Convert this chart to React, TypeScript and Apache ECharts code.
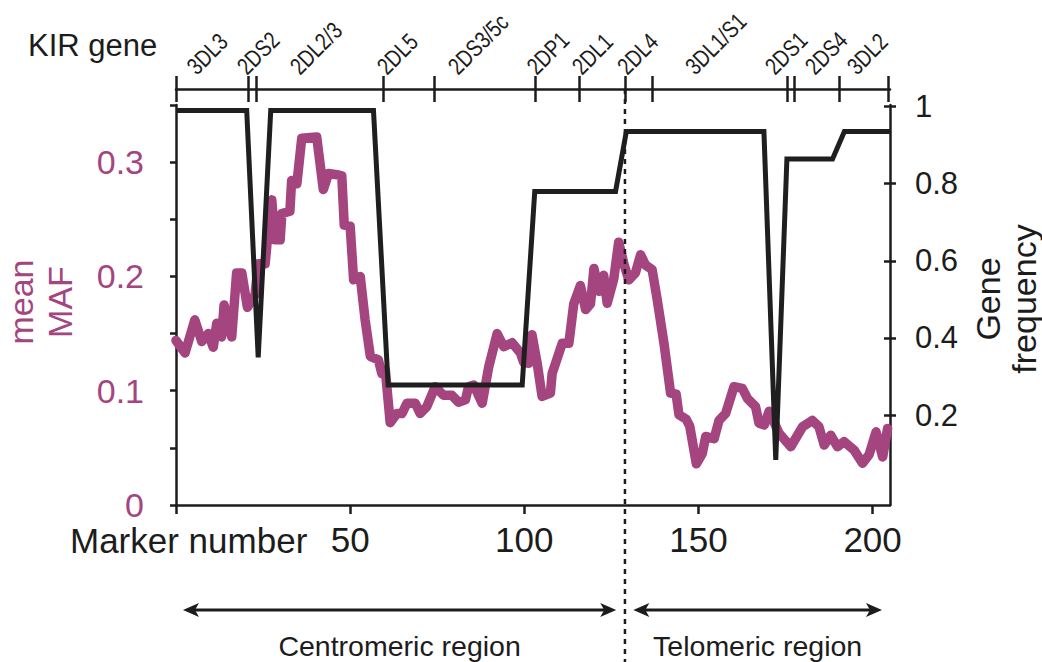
import React, { useEffect, useRef } from "react";
import * as echarts from "echarts";

// ---- data ----
const mafMarkers = [
  0, 2.6, 5.4, 7.4, 9.3, 10.7, 11.7, 13.1, 13.8, 16.0, 17.4, 18.9, 20.5, 22.7, 23.6, 25.6, 26.5, 27.5, 28.4, 29.9,
  30.4, 32.7, 33.2, 34.7, 36.1, 40.4, 42.3, 43.8, 46.2, 47.6, 48.3, 50.0, 51.0, 52.9, 54.3, 55.8, 58.1, 59.1, 60.1, 61.5,
  63.4, 64.9, 66.3, 68.7, 70.1, 72.0, 74.4, 76.8, 79.2, 81.1, 83.1, 84.0, 85.5, 87.9, 89.8, 92.2, 94.1, 96.5, 98.9, 99.8,
  101.3, 102.2, 103.7, 105.1, 107.5, 108.0, 110.9, 112.8, 114.2, 116.1, 117.6, 119.0, 120.0, 121.4, 122.8, 123.8, 125.7, 127.1, 128.6, 130.0,
  131.9, 133.4, 134.8, 136.7, 138.2, 140.1, 142.0, 143.6, 144.4, 146.5, 147.5, 149.4, 151.1, 152.1, 154.5, 155.9, 157.8, 160.2, 162.6, 164.1,
  166.4, 167.4, 168.9, 170.3, 173.1, 176.5, 179.9, 182.7, 184.6, 186.1, 188.0, 189.9, 191.8, 194.7, 197.1, 199.0, 201.0, 202.9, 204.3,
];
const mafValues = [
  0.144, 0.133, 0.162, 0.143, 0.150, 0.138, 0.159, 0.147, 0.175, 0.147, 0.203, 0.203, 0.173, 0.184, 0.211, 0.211, 0.241, 0.267, 0.232, 0.232,
  0.255, 0.257, 0.284, 0.281, 0.321, 0.322, 0.276, 0.290, 0.289, 0.288, 0.245, 0.244, 0.197, 0.200, 0.162, 0.130, 0.127, 0.115, 0.118, 0.072,
  0.080, 0.080, 0.089, 0.089, 0.080, 0.086, 0.1035, 0.096, 0.096, 0.090, 0.092, 0.1035, 0.105, 0.089, 0.121, 0.150, 0.1385, 0.142, 0.133, 0.125,
  0.124, 0.149, 0.124, 0.095, 0.098, 0.115, 0.1415, 0.1415, 0.176, 0.192, 0.171, 0.176, 0.207, 0.187, 0.201, 0.1765, 0.198, 0.230, 0.211, 0.197,
  0.203, 0.219, 0.210, 0.206, 0.179, 0.1415, 0.098, 0.097, 0.079, 0.075, 0.069, 0.036, 0.045, 0.060, 0.058, 0.074, 0.080, 0.1035, 0.102, 0.093,
  0.086, 0.0715, 0.070, 0.082, 0.063, 0.051, 0.0685, 0.074, 0.0685, 0.0525, 0.061, 0.051, 0.0554, 0.048, 0.0365, 0.044, 0.064, 0.042, 0.067,
];

const geneMarkers = [0, 20.3, 23.6, 27.2, 56.7, 60.9, 99.4, 103, 126.2, 129.3, 168.8, 172.2, 175.4, 188.5, 191.9, 205];
const geneFrequency = [0.99, 0.99, 0.35, 0.99, 0.99, 0.278, 0.278, 0.78, 0.78, 0.935, 0.935, 0.084, 0.864, 0.864, 0.935, 0.935];

const geneBounds = [0, 20.8, 23, 59.4, 74.1, 103.1, 115.7, 128.9, 136.7, 175.5, 177.5, 190.5, 204.6];
const geneNames = ["3DL3", "2DS2", "2DL2/3", "2DL5", "2DS3/5c", "2DP1", "2DL1", "2DL4", "3DL1/S1", "2DS1", "2DS4", "3DL2"];
const geneLabelAt = [6.0, 20.4, 35.6, 60.6, 81.0, 103.6, 116.6, 129.6, 149.1, 172.0, 183.5, 195.5];

const freqTicks = [0.2, 0.4, 0.6, 0.8, 1];
const regionNames = ["Centromeric region", "Telomeric region"];
const regionSpans = [
  [2, 126.4],
  [131.3, 202.7],
];
const regionBoundary = 128.9;

const FONT = "'Liberation Sans', Arial, Helvetica, sans-serif";
const INK = "#1c1c1c";
const PURPLE = "#a4457f";

export default function App() {
  const ref = useRef<HTMLDivElement>(null);

  useEffect(() => {
    document.body.style.margin = "0";
    const chart = echarts.init(ref.current!, undefined, { renderer: "svg" });
    const line = { color: INK, width: 2.5 };

    chart.setOption({
      animation: false,
      grid: { left: 176, right: 152, top: 105, bottom: 157 },
      xAxis: [
        {
          type: "value",
          min: 0,
          max: 205,
          interval: 50,
          position: "bottom",
          axisLine: { show: true, onZero: false, lineStyle: line },
          axisTick: { show: true, length: 9, lineStyle: line },
          axisLabel: {
            formatter: (v: number) => (v === 0 ? "" : String(v)),
            fontSize: 35,
            color: INK,
            margin: 17,
            fontFamily: FONT,
          },
          splitLine: { show: false },
        },
        {
          type: "value",
          min: 0,
          max: 205,
          position: "top",
          offset: 16,
          axisLine: { show: true, onZero: false, lineStyle: line },
          axisTick: { show: true, customValues: geneBounds, length: 13, lineStyle: line },
          axisLabel: { show: false },
          splitLine: { show: false },
        },
        {
          type: "value",
          min: 0,
          max: 205,
          position: "top",
          offset: 16,
          axisLine: { show: false, onZero: false },
          axisTick: { show: true, inside: true, customValues: geneBounds, length: 13, lineStyle: line },
          axisLabel: { show: false },
          splitLine: { show: false },
        },
      ],
      yAxis: [
        {
          type: "value",
          min: 0,
          max: 0.35,
          interval: 0.05,
          position: "left",
          axisLine: { show: true, onZero: false, lineStyle: line },
          axisTick: { show: true, length: 6, lineStyle: line },
          axisLabel: {
            formatter: (v: number) => {
              const t = v * 10;
              if (Math.abs(t - Math.round(t)) > 1e-6) return "";
              return v === 0 ? "0" : v.toFixed(1);
            },
            fontSize: 34,
            color: PURPLE,
            margin: 32,
            padding: [0, 0, 8, 0],
            fontFamily: FONT,
          },
          splitLine: { show: false },
        },
        {
          type: "value",
          min: -0.033,
          max: 1.004,
          position: "right",
          axisLine: { show: true, onZero: false, lineStyle: line },
          axisTick: { show: true, customValues: freqTicks, length: 6, lineStyle: line },
          axisLabel: {
            customValues: freqTicks,
            formatter: (v: number) => (v === 1 ? "1" : v.toFixed(1)),
            fontSize: 31,
            color: INK,
            margin: 25,
            fontFamily: FONT,
          },
          splitLine: { show: false },
        },
        {
          type: "value",
          min: -0.033,
          max: 1.004,
          position: "right",
          axisLine: { show: false, onZero: false },
          axisTick: { show: true, inside: true, customValues: freqTicks, length: 6, lineStyle: line },
          axisLabel: { show: false },
          splitLine: { show: false },
        },
      ],
      series: [
        {
          type: "line",
          name: "mean MAF",
          xAxisIndex: 0,
          yAxisIndex: 0,
          data: mafMarkers.map((m, i) => [m, mafValues[i]]),
          symbol: "none",
          clip: false,
          lineStyle: { color: PURPLE, width: 9.5, join: "round", cap: "round" },
          z: 2,
        },
        {
          type: "line",
          name: "Gene frequency",
          xAxisIndex: 0,
          yAxisIndex: 1,
          data: geneMarkers.map((m, i) => [m, geneFrequency[i]]),
          symbol: "none",
          clip: false,
          lineStyle: { color: "#1f1f1f", width: 5, join: "miter", miterLimit: 3 },
          z: 3,
        },
      ],
    });

    const px = (m: number) => chart.convertToPixel({ xAxisIndex: 0 }, m) as number;
    const bx = px(regionBoundary);
    const arrowY = 610;
    const geneFont = 24;
    const shift = 0.3465 * geneFont * Math.SQRT1_2;
    const graphics: any[] = [
      {
        type: "line",
        shape: { x1: bx, y1: 89, x2: bx, y2: 662 },
        style: { stroke: INK, lineWidth: 2.5, lineDash: [5, 5] },
        z: 10,
      },
      {
        type: "text",
        style: { text: "KIR gene", x: 28, y: 45, fontSize: 31, fontFamily: FONT, fill: INK, textAlign: "left", textVerticalAlign: "middle" },
      },
      {
        type: "text",
        style: { text: "Marker number", x: 70, y: 540, fontSize: 35, fontFamily: FONT, fill: INK, textAlign: "left", textVerticalAlign: "middle" },
      },
      {
        type: "text",
        x: 21,
        y: 302,
        rotation: Math.PI / 2,
        style: { text: "mean", x: 0, y: 0, fontSize: 34, fontFamily: FONT, fill: PURPLE, textAlign: "center", textVerticalAlign: "middle" },
      },
      {
        type: "text",
        x: 60,
        y: 302,
        rotation: Math.PI / 2,
        style: { text: "MAF", x: 0, y: 0, fontSize: 34, fontFamily: FONT, fill: PURPLE, textAlign: "center", textVerticalAlign: "middle" },
      },
      {
        type: "text",
        x: 988,
        y: 299,
        rotation: Math.PI / 2,
        style: { text: "Gene", x: 0, y: 0, fontSize: 34, fontFamily: FONT, fill: INK, textAlign: "center", textVerticalAlign: "middle" },
      },
      {
        type: "text",
        x: 1024,
        y: 299,
        rotation: Math.PI / 2,
        style: { text: "frequency", x: 0, y: 0, fontSize: 34, fontFamily: FONT, fill: INK, textAlign: "center", textVerticalAlign: "middle" },
      },
    ];
    geneNames.forEach((name, i) => {
      graphics.push({
        type: "text",
        x: px(geneLabelAt[i]) - shift,
        y: 76 - shift,
        rotation: Math.PI / 4,
        scaleX: 0.8,
        style: { text: name, x: 0, y: 0, fontSize: geneFont, fontFamily: FONT, fill: INK, textAlign: "left", textVerticalAlign: "middle" },
      });
    });
    regionSpans.forEach((span, i) => {
      const x1 = px(span[0]);
      const x2 = px(span[1]);
      const head = 16;
      const half = 7;
      graphics.push(
        {
          type: "line",
          shape: { x1: x1 + 6, y1: arrowY, x2: x2 - 6, y2: arrowY },
          style: { stroke: INK, lineWidth: 3 },
        },
        {
          type: "polygon",
          shape: { points: [[x1, arrowY], [x1 + head, arrowY - half], [x1 + head - 4, arrowY], [x1 + head, arrowY + half]] },
          style: { fill: INK },
        },
        {
          type: "polygon",
          shape: { points: [[x2, arrowY], [x2 - head, arrowY - half], [x2 - head + 4, arrowY], [x2 - head, arrowY + half]] },
          style: { fill: INK },
        },
        {
          type: "text",
          style: {
            text: regionNames[i],
            x: (x1 + x2) / 2,
            y: 646,
            fontSize: 28.5,
            fontFamily: FONT,
            fill: INK,
            textAlign: "center",
            textVerticalAlign: "middle",
          },
        }
      );
    });
    chart.setOption({ graphic: graphics });

    return () => chart.dispose();
  }, []);

  return <div ref={ref} style={{ width: 1042, height: 662 }} />;
}
